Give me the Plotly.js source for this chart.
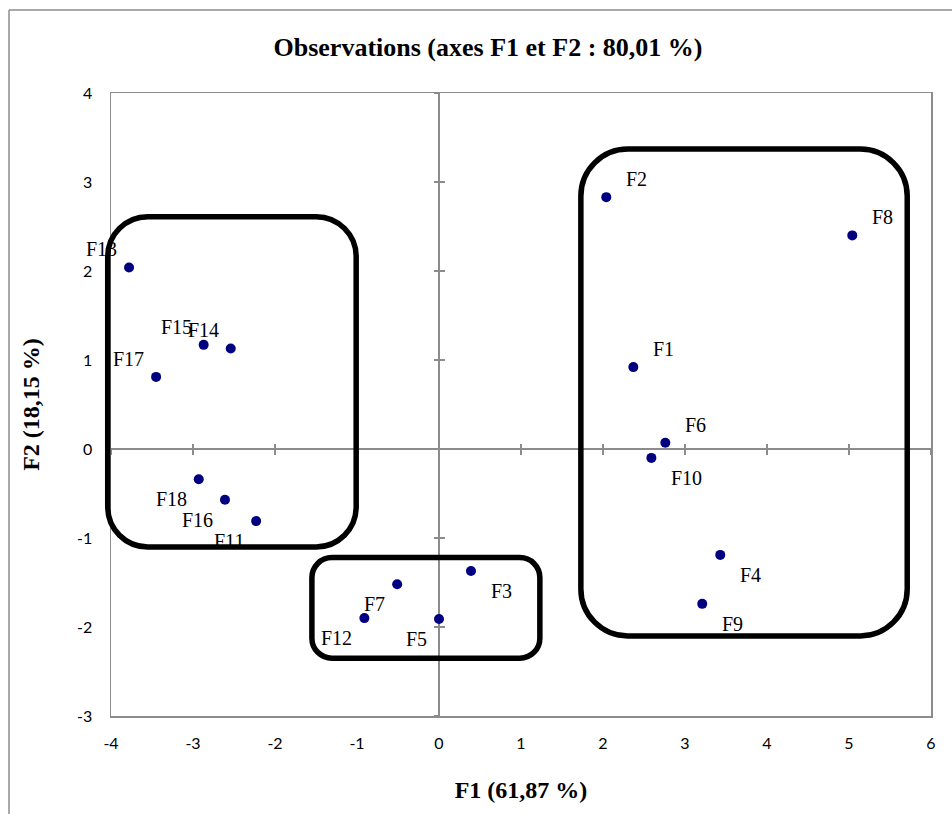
<!DOCTYPE html>
<html>
<head>
<meta charset="utf-8">
<script src="https://cdn.plot.ly/plotly-3.0.1.min.js"></script>
<style>html,body{margin:0;padding:0;background:#fff;}#chart{width:952px;height:814px;}</style>
</head>
<body>
<div id="chart"></div>
<script>
// Observations
const names = ['F1','F2','F3','F4','F5','F6','F7','F8','F9','F10','F11','F12','F13','F14','F15','F16','F17','F18'];
const f1 = [2.37, 2.04, 0.39, 3.43, 0.00, 2.76, -0.51, 5.04, 3.21, 2.59, -2.23, -0.91, -3.78, -2.54, -2.87, -2.61, -3.45, -2.93];
const f2 = [0.92, 2.83, -1.37, -1.19, -1.91, 0.07, -1.52, 2.40, -1.74, -0.10, -0.81, -1.90, 2.04, 1.13, 1.17, -0.57, 0.81, -0.34];
const labelPos = ['tr','tr','br','br','bl','tr','bl','tr','br','br','bl','bl','tl','tl','tl','bl','tl','bl'];

// Axis ticks
const xTickVals = [-4,-3,-2,-1,0,1,2,3,4,5,6];
const xTickText = ['-4','-3','-2','-1','0','1','2','3','4','5','6'];
const yTickVals = [-3,-2,-1,0,1,2,3,4];
const yTickText = ['-3','-2','-1','0','1','2','3','4'];

// Group boxes (data units) and corner radius (px)
const boxX0 = [-4.04, -1.55, 1.73];
const boxX1 = [-1.01, 1.23, 5.71];
const boxY0 = [-1.10, -2.35, -2.10];
const boxY1 = [2.61, -1.22, 3.37];
const boxR  = [40, 20, 47];

const XR = [-4, 6], YR = [-3, 4];
const W = 952, H = 814;
const M = {l:111, r:21, t:93, b:98};
const PW = W - M.l - M.r, PH = H - M.t - M.b;

const px = v => (v - XR[0]) / (XR[1] - XR[0]);
const py = v => (v - YR[0]) / (YR[1] - YR[0]);

function roundRect(x0, x1, y0, y1, r) {
  const X0 = px(x0), X1 = px(x1), Y0 = py(y0), Y1 = py(y1);
  const rx = r / PW, ry = r / PH, k = 0.5523;
  const f = n => n.toFixed(5);
  return 'M' + f(X0+rx) + ',' + f(Y1) +
    ' L' + f(X1-rx) + ',' + f(Y1) +
    ' C' + f(X1-rx+k*rx) + ',' + f(Y1) + ' ' + f(X1) + ',' + f(Y1-ry+k*ry) + ' ' + f(X1) + ',' + f(Y1-ry) +
    ' L' + f(X1) + ',' + f(Y0+ry) +
    ' C' + f(X1) + ',' + f(Y0+ry-k*ry) + ' ' + f(X1-rx+k*rx) + ',' + f(Y0) + ' ' + f(X1-rx) + ',' + f(Y0) +
    ' L' + f(X0+rx) + ',' + f(Y0) +
    ' C' + f(X0+rx-k*rx) + ',' + f(Y0) + ' ' + f(X0) + ',' + f(Y0+ry-k*ry) + ' ' + f(X0) + ',' + f(Y0+ry) +
    ' L' + f(X0) + ',' + f(Y1-ry) +
    ' C' + f(X0) + ',' + f(Y1-ry+k*ry) + ' ' + f(X0+rx-k*rx) + ',' + f(Y1) + ' ' + f(X0+rx) + ',' + f(Y1) + ' Z';
}

const shapes = [];
for (let i = 0; i < boxX0.length; i++) {
  shapes.push({type:'path', xref:'paper', yref:'paper', path: roundRect(boxX0[i], boxX1[i], boxY0[i], boxY1[i], boxR[i]),
    line:{color:'#000', width:5.5}, fillcolor:'rgba(0,0,0,0)', layer:'above'});
}
// outer chart frame (left + top edges)
const fx = (9 - M.l) / PW, fy = (H - M.b - 10) / PH;
shapes.push({type:'line', xref:'paper', yref:'paper', x0:fx, x1:fx, y0:fy, y1:-0.3, line:{color:'#8c8c8c', width:1.5}});
shapes.push({type:'line', xref:'paper', yref:'paper', x0:fx, x1:1.2, y0:fy, y1:fy, line:{color:'#8c8c8c', width:1.5}});

const serif = '"Liberation Serif", "Times New Roman", serif';
const annotations = names.map((n, i) => {
  const p = labelPos[i];
  const right = p[1] === 'r', top = p[0] === 't';
  return {x: f1[i], y: f2[i], xref:'x', yref:'y', text: n, showarrow:false,
    xanchor: right ? 'left' : 'right', yanchor:'middle',
    xshift: right ? 18 : -10, yshift: top ? 18 : -20,
    font:{family:serif, size:20, color:'#000'}};
});

const tickFont = {family:'Lato, "Open Sans", sans-serif', size:16, color:'#000'};
const gray = '#8c8c8c';
const crossBase = {showgrid:false, zeroline:false, showline:false, showticklabels:false, ticklen:5, tickwidth:1.5, tickcolor:gray};

const trace = {type:'scatter', mode:'markers', x:f1, y:f2, text:names,
  marker:{color:'#000080', size:10}, hoverinfo:'text', showlegend:false, cliponaxis:false};
// empty traces so that the crossing-tick axes (on the zero lines) are drawn
const tickHost2 = {type:'scatter', mode:'markers', x:[], y:[], xaxis:'x2', yaxis:'y2', showlegend:false, hoverinfo:'skip'};
const tickHost3 = {type:'scatter', mode:'markers', x:[], y:[], xaxis:'x3', yaxis:'y3', showlegend:false, hoverinfo:'skip'};

const layout = {
  width:W, height:H, margin:M, paper_bgcolor:'#fff', plot_bgcolor:'#fff', showlegend:false,
  title:{text:'Observations (axes F1 et F2 : 80,01 %)', x:488/W, xref:'container', xanchor:'center', y:1-47/H, yref:'container', yanchor:'middle',
    font:{family:serif, size:26, color:'#000', weight:'bold'}},
  xaxis:{range:XR, tickvals:xTickVals, ticktext:xTickText, ticks:'', showgrid:false, zeroline:true, zerolinecolor:gray, zerolinewidth:1.5,
    showline:true, mirror:true, linecolor:gray, linewidth:1.5, tickfont:tickFont, ticklabelstandoff:12, automargin:false,
    title:{text:'F1 (61,87 %)', standoff:30, font:{family:serif, size:24, color:'#000', weight:'bold'}}},
  yaxis:{range:YR, tickvals:yTickVals, ticktext:yTickText, ticks:'', showgrid:false, zeroline:true, zerolinecolor:gray, zerolinewidth:1.5,
    showline:true, mirror:true, linecolor:gray, linewidth:1.5, tickfont:tickFont, ticklabelstandoff:14, automargin:false,
    title:{text:'F2 (18,15 %)', standoff:30, font:{family:serif, size:24, color:'#000', weight:'bold'}}},
  xaxis2:Object.assign({overlaying:'x', range:XR, tickvals:xTickVals, anchor:'free', position:py(0), ticks:'outside', side:'bottom'}, crossBase),
  xaxis3:Object.assign({overlaying:'x', range:XR, tickvals:xTickVals, anchor:'free', position:py(0), ticks:'inside', side:'bottom'}, crossBase),
  yaxis2:Object.assign({overlaying:'y', range:YR, tickvals:yTickVals, anchor:'free', position:px(0), ticks:'outside', side:'left'}, crossBase),
  yaxis3:Object.assign({overlaying:'y', range:YR, tickvals:yTickVals, anchor:'free', position:px(0), ticks:'inside', side:'left'}, crossBase),
  shapes: shapes,
  annotations: annotations
};

Plotly.newPlot('chart', [tickHost2, tickHost3, trace], layout, {staticPlot:true, displayModeBar:false});
</script>
</body>
</html>
